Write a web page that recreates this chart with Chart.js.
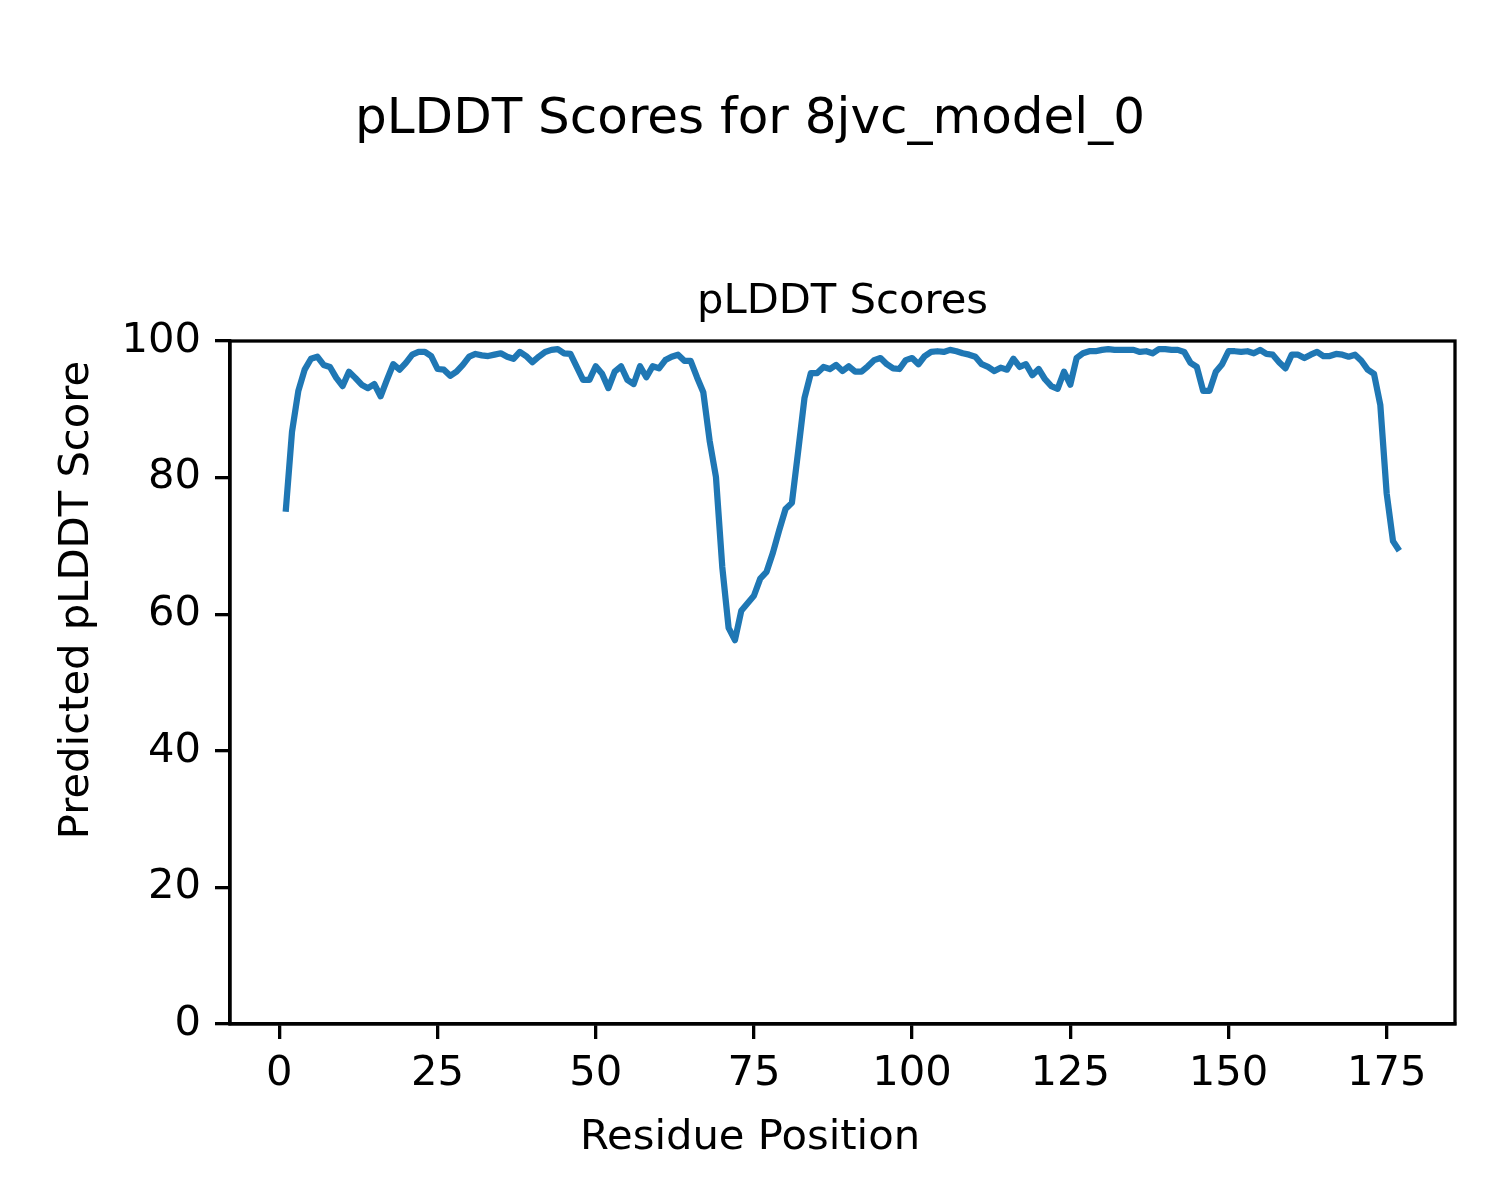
<!DOCTYPE html>
<html>
<head>
<meta charset="utf-8">
<script src="https://cdn.jsdelivr.net/npm/chart.js@4.4.1/dist/chart.umd.min.js"></script>
<style>
   html, body { margin: 0; padding: 0; background: #ffffff; }
   #chart1 { display: block; }
</style>
</head>
<body>
<canvas id="chart1" width="1500" height="1200"></canvas>
<script>
const figTitle = "pLDDT Scores for 8jvc_model_0";
const axTitle = "pLDDT Scores";
const xLabel = "Residue Position";
const yLabel = "Predicted pLDDT Score";

const xTicks = [0, 25, 50, 75, 100, 125, 150, 175];
const yTicks = [0, 20, 40, 60, 80, 100];

const plddt = [
   75.0, 86.7, 92.7, 95.8, 97.4, 97.7, 96.5, 96.2, 94.6, 93.4,
   95.5, 94.6, 93.6, 93.1, 93.7, 91.9, 94.3, 96.6, 95.8, 96.8,
   98.0, 98.4, 98.4, 97.8, 95.9, 95.8, 94.9, 95.5, 96.5, 97.7,
   98.1, 97.9, 97.8, 98.0, 98.2, 97.7, 97.4, 98.4, 97.8, 96.9,
   97.7, 98.4, 98.7, 98.8, 98.2, 98.1, 96.2, 94.3, 94.3, 96.3,
   95.2, 93.1, 95.5, 96.3, 94.3, 93.7, 96.3, 94.7, 96.3, 96.0,
   97.2, 97.7, 98.0, 97.1, 97.1, 94.7, 92.5, 85.4, 80.1, 66.9,
   58.0, 56.2, 60.5, 61.6, 62.7, 65.2, 66.2, 69.0, 72.3, 75.4,
   76.3, 83.9, 91.7, 95.3, 95.3, 96.2, 95.9, 96.5, 95.6, 96.3,
   95.5, 95.5, 96.3, 97.2, 97.5, 96.6, 96.0, 95.9, 97.2, 97.5,
   96.6, 97.8, 98.4, 98.5, 98.4, 98.7, 98.5, 98.2, 98.0, 97.7,
   96.6, 96.2, 95.6, 96.1, 95.8, 97.4, 96.2, 96.6, 95.0, 95.9,
   94.4, 93.4, 93.0, 95.5, 93.6, 97.5, 98.2, 98.5, 98.5, 98.7,
   98.8, 98.7, 98.7, 98.7, 98.7, 98.4, 98.5, 98.2, 98.8, 98.8,
   98.7, 98.7, 98.4, 96.8, 96.2, 92.7, 92.7, 95.5, 96.6, 98.5,
   98.5, 98.4, 98.5, 98.2, 98.7, 98.1, 98.0, 96.9, 96.0, 98.0,
   98.0, 97.5, 98.0, 98.4, 97.8, 97.8, 98.1, 98.0, 97.7, 98.0,
   97.1, 95.8, 95.2, 90.6, 77.7, 70.7, 69.3
];
const residues = plddt.map((v, i) => i + 1);

const fontFamily = "'DejaVu Sans', sans-serif";
const lineBlue = "#1f77b4";
const spineWidth = 3.3;

// frame + figure-level texts, like matplotlib draws them
const figureText = {
   id: "figureText",
   afterDraw(chart) {
      const ctx = chart.ctx;
      const area = chart.chartArea;
      ctx.save();
      ctx.strokeStyle = "#000000";
      ctx.lineWidth = spineWidth;
      ctx.strokeRect(area.left, area.top, area.right - area.left, area.bottom - area.top);

      ctx.fillStyle = "#000000";
      ctx.textAlign = "center";
      ctx.textBaseline = "middle";
      ctx.font = `50px ${fontFamily}`;
      ctx.fillText(figTitle, 750, 120);

      ctx.font = `41.7px ${fontFamily}`;
      ctx.fillText(axTitle, (area.left + area.right) / 2, 302);
      ctx.fillText(xLabel, 750, 1138);

      ctx.translate(77, 600);
      ctx.rotate(-Math.PI / 2);
      ctx.fillText(yLabel, 0, 0);
      ctx.restore();
   }
};

function drawChart(ctx) {
   const config = {
      type: "line",
      data: {
         datasets: [{
            label: axTitle,
            data: residues.map((r, i) => ({ x: r, y: plddt[i] })),
            borderColor: lineBlue,
            borderWidth: 6.25,
            borderJoinStyle: "round",
            borderCapStyle: "butt",
            pointRadius: 0,
            tension: 0,
            fill: false
         }]
      },
      options: {
         responsive: false,
         animation: false,
         layout: {
            padding: { top: 341, right: 45, bottom: 0, left: 0 }
         },
         plugins: {
            legend: { display: false },
            tooltip: { enabled: false },
            title: { display: false }
         },
         scales: {
            x: {
               type: "linear",
               min: -7.8,
               max: 185.8,
               afterBuildTicks: (scale) => {
                  scale.ticks = xTicks.map(v => ({ value: v }));
               },
               afterFit: (scale) => { scale.height = 176; },
               border: { display: true, color: "#000000", width: spineWidth },
               grid: {
                  drawOnChartArea: false,
                  drawTicks: true,
                  tickLength: 15,
                  color: "#000000",
                  lineWidth: spineWidth
               },
               ticks: {
                  color: "#000000",
                  padding: 10,
                  maxRotation: 0,
                  autoSkip: false,
                  font: { family: fontFamily, size: 41.7 }
               }
            },
            y: {
               min: 0,
               max: 100,
               afterBuildTicks: (scale) => {
                  scale.ticks = yTicks.map(v => ({ value: v }));
               },
               afterFit: (scale) => { scale.width = 230; },
               border: { display: true, color: "#000000", width: spineWidth },
               grid: {
                  drawOnChartArea: false,
                  drawTicks: true,
                  tickLength: 15,
                  color: "#000000",
                  lineWidth: spineWidth
               },
               ticks: {
                  color: "#000000",
                  padding: 14,
                  autoSkip: false,
                  font: { family: fontFamily, size: 41.7 }
               }
            }
         }
      },
      plugins: [figureText]
   };
   return new Chart(ctx, config);
}

drawChart(document.querySelector("#chart1"));
</script>
</body>
</html>
